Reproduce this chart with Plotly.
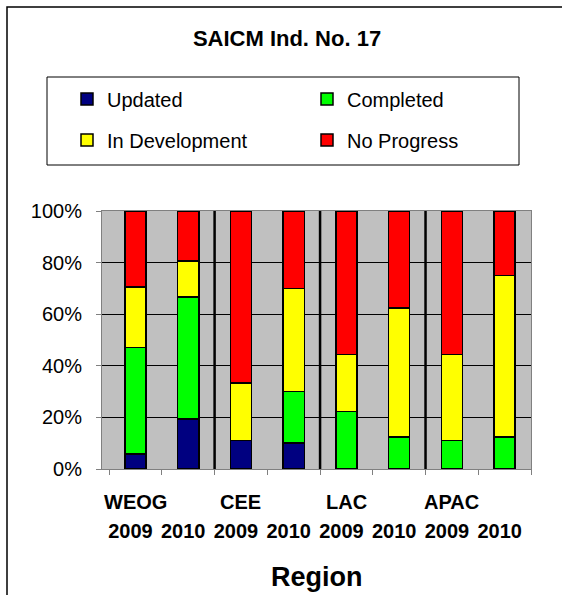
import plotly.graph_objects as go

# ---- data ----
regions = ["WEOG", "WEOG", "CEE", "CEE", "LAC", "LAC", "APAC", "APAC"]
years = ["2009", "2010", "2009", "2010", "2009", "2010", "2009", "2010"]
updated = [5.9, 19.4, 11.1, 10.0, 0, 0, 0, 0]
completed = [41.2, 47.2, 0, 20.0, 22.2, 12.5, 11.1, 12.5]
in_development = [23.5, 14.0, 22.2, 40.0, 22.2, 50.0, 33.3, 62.5]
no_progress = [29.4, 19.4, 66.7, 30.0, 55.6, 37.5, 55.6, 25.0]
series_names = ["Updated", "Completed", "In Development", "No Progress"]
series_colors = ["#000080", "#00FF00", "#FFFF00", "#FF0000"]
y_ticks = [0, 20, 40, 60, 80, 100]

cats = [f"{r} {y}" for r, y in zip(regions, years)]
FONT = "Liberation Sans, Arial, sans-serif"
W, H = 562, 595
L, R, T, B = 102, 31, 211, 126
PW, PH = W - L - R, H - T - B


def px_x(px):
    return (px - L) / PW


def px_y(py):
    return (H - B - py) / PH


fig = go.Figure()
legend_ids = ["legend", "legend2", "legend3", "legend4"]
for name, vals, col, lg in zip(series_names, [updated, completed, in_development, no_progress],
                               series_colors, legend_ids):
    fig.add_trace(go.Bar(x=cats, y=vals, name=name, legend=lg, showlegend=True,
                         marker=dict(color=col, line=dict(color="black", width=1.5))))

# legend positions (container px): symbol centre x, row centre y
leg_pos = [(87, 99), (327, 99), (87, 140), (327, 140)]
legends = {}
for lg, (sx, sy) in zip(legend_ids, leg_pos):
    legends[lg] = dict(x=px_x(sx - 20), y=px_y(sy), xref="paper", yref="paper",
                       xanchor="left", yanchor="middle", visible=True,
                       bgcolor="rgba(0,0,0,0)", borderwidth=0,
                       font=dict(family=FONT, size=20, color="black"))

shapes = []
# outer border (left and top visible)
shapes.append(dict(type="rect", xref="paper", yref="paper",
                   x0=px_x(7), x1=px_x(W + 20), y0=px_y(H + 20), y1=px_y(7),
                   line=dict(color="black", width=1.5), layer="below"))
# legend box
shapes.append(dict(type="rect", xref="paper", yref="paper",
                   x0=px_x(47), x1=px_x(519), y0=px_y(165), y1=px_y(77),
                   line=dict(color="black", width=1)))
# group separators between regions
for i in range(1, len(cats)):
    if regions[i] != regions[i - 1]:
        shapes.append(dict(type="line", xref="x", yref="paper",
                           x0=i - 0.5, x1=i - 0.5, y0=0, y1=1,
                           line=dict(color="black", width=2.5), layer="above"))

annotations = []
for i, r in enumerate(regions):
    if i == 0 or regions[i - 1] != r:
        annotations.append(dict(x=cats[i], y=px_y(502), xref="x", yref="paper",
                                text=f"<b>{r}</b>", showarrow=False,
                                xanchor="center", yanchor="middle",
                                font=dict(family=FONT, size=20, color="black")))
annotations.append(dict(x=px_x(317), y=px_y(577), xref="paper", yref="paper",
                        text="<b>Region</b>", showarrow=False,
                        xanchor="center", yanchor="middle",
                        font=dict(family=FONT, size=27, color="black")))

fig.update_layout(
    width=W, height=H,
    margin=dict(l=L, r=R, t=T, b=B, autoexpand=False),
    paper_bgcolor="white", plot_bgcolor="#C0C0C0",
    barmode="stack", bargap=0.6, showlegend=True,
    title=dict(text="<b>SAICM Ind. No. 17</b>", xref="container", yref="container",
               x=287 / W, y=1 - 38 / H, xanchor="center", yanchor="middle",
               font=dict(family=FONT, size=22, color="black")),
    shapes=shapes, annotations=annotations,
    **legends,
)
fig.update_xaxes(type="category", categoryorder="array", categoryarray=cats,
                 tickmode="array", tickvals=cats, ticktext=[f"<b>{y}</b>" for y in years],
                 tickson="boundaries", ticks="outside", ticklen=5, tickcolor="#808080",
                 showline=True, linecolor="#808080", linewidth=1, mirror=True,
                 showgrid=False, ticklabelstandoff=44, ticklabelshift=-5, tickangle=0,
                 tickfont=dict(family=FONT, size=20, color="black"))
fig.update_yaxes(range=[0, 100], tickmode="array", tickvals=y_ticks,
                 ticktext=[f"{v}%" for v in y_ticks],
                 ticks="outside", ticklen=5, tickcolor="#808080",
                 showline=True, linecolor="#808080", linewidth=1, mirror=True,
                 showgrid=True, gridcolor="black", gridwidth=1, zeroline=False,
                 ticklabelstandoff=10,
                 tickfont=dict(family=FONT, size=20, color="black"))

fig.write_html("out.html", config={"displayModeBar": False},
               post_script="document.body.style.margin='0';")
